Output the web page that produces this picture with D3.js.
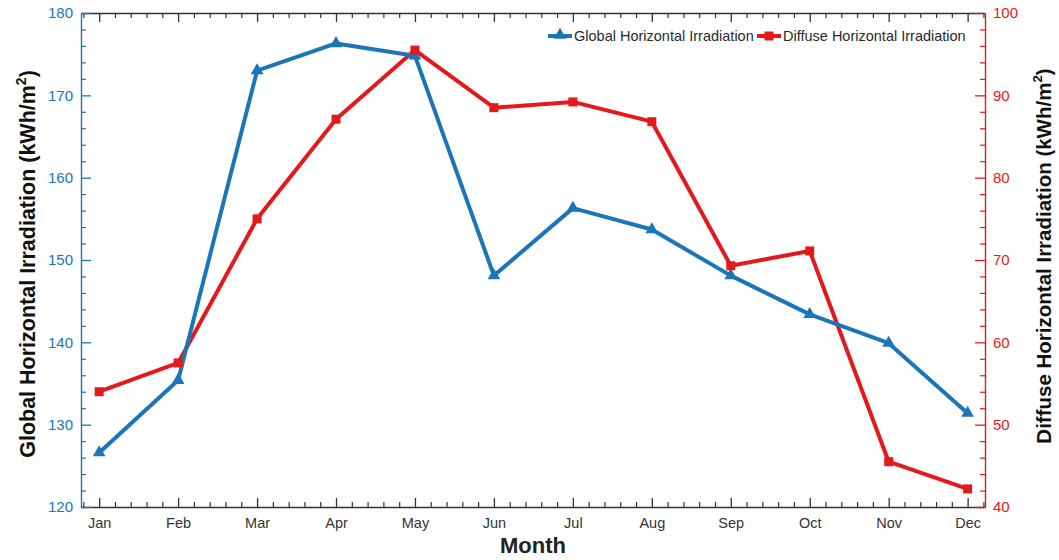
<!DOCTYPE html>
<html>
<head>
<meta charset="utf-8">
<script src="https://cdn.jsdelivr.net/npm/d3@7"></script>
<style>
  body { margin: 0; background: #fff; }
  svg text { font-family: "Liberation Sans", Arial, sans-serif; }
</style>
</head>
<body>
<svg id="chart" width="1059" height="560"></svg>
<script>
// Monthly irradiation, kWh/m²
const months = ["Jan", "Feb", "Mar", "Apr", "May", "Jun", "Jul", "Aug", "Sep", "Oct", "Nov", "Dec"];
const globalIrr = [126.6, 135.4, 173.0, 176.3, 174.8, 148.1, 156.3, 153.7, 148.1, 143.4, 139.9, 131.4];
const diffuseIrr = [54.0, 57.5, 75.0, 87.1, 95.5, 88.5, 89.2, 86.8, 69.3, 71.1, 45.5, 42.2];
const leftTicks = [120, 130, 140, 150, 160, 170, 180];
const rightTicks = [40, 50, 60, 70, 80, 90, 100];

const BLUE = "#1b75b9";
const RED = "#e3191b";
const AXIS = "#333333";

const svg = d3.select("#chart");
const L = 81, R = 985, T = 13, B = 507;

const x = d3.scaleLinear().domain([0.77, 12.22]).range([L, R]);
const yL = d3.scaleLinear().domain([120, 180]).range([B, T]);
const yR = d3.scaleLinear().domain([40, 100]).range([B, T]);

const monthIdx = months.map((m, i) => i + 1);
const minorX = d3.range(0.8, 12.21, 0.2).filter(v => Math.abs(v - Math.round(v)) > 0.01);
const minorL = d3.range(120, 180.01, 2).filter(v => v % 10 !== 0);
const minorR = d3.range(40, 100.01, 2).filter(v => v % 10 !== 0);

// Bottom axis: month ticks pointing inward
const gB = svg.append("g").attr("transform", `translate(0,${B})`)
  .call(d3.axisBottom(x).tickValues(monthIdx).tickFormat(d => months[d - 1])
    .tickSizeInner(-9).tickSizeOuter(0).tickPadding(11));
gB.select(".domain").attr("stroke", AXIS).attr("stroke-width", 1.3);
gB.selectAll(".tick line").attr("stroke", AXIS).attr("stroke-width", 1.3);
gB.selectAll(".tick text").attr("fill", "#333").attr("font-size", 14.5);
svg.append("g").attr("transform", `translate(0,${B})`)
  .call(d3.axisBottom(x).tickValues(minorX).tickFormat("").tickSizeInner(-5).tickSizeOuter(0))
  .call(g => g.select(".domain").remove())
  .selectAll("line").attr("stroke", AXIS).attr("stroke-width", 1.2);

// Top axis: mirrored ticks pointing down
const gT = svg.append("g").attr("transform", `translate(0,${T})`)
  .call(d3.axisTop(x).tickValues(monthIdx).tickFormat("").tickSizeInner(-9).tickSizeOuter(0));
gT.select(".domain").attr("stroke", AXIS).attr("stroke-width", 1.3);
gT.selectAll("line").attr("stroke", AXIS).attr("stroke-width", 1.3);
svg.append("g").attr("transform", `translate(0,${T})`)
  .call(d3.axisTop(x).tickValues(minorX).tickFormat("").tickSizeInner(-5).tickSizeOuter(0))
  .call(g => g.select(".domain").remove())
  .selectAll("line").attr("stroke", AXIS).attr("stroke-width", 1.2);

// Left axis (global)
const gL = svg.append("g").attr("transform", `translate(${L},0)`)
  .call(d3.axisLeft(yL).tickValues(leftTicks).tickSizeInner(-10).tickSizeOuter(0).tickPadding(8));
gL.select(".domain").attr("stroke", BLUE).attr("stroke-width", 1.4);
gL.selectAll(".tick line").attr("stroke", BLUE).attr("stroke-width", 1.3);
gL.selectAll(".tick text").attr("fill", BLUE).attr("font-size", 15);
svg.append("g").attr("transform", `translate(${L},0)`)
  .call(d3.axisLeft(yL).tickValues(minorL).tickFormat("").tickSizeInner(-5).tickSizeOuter(0))
  .call(g => g.select(".domain").remove())
  .selectAll("line").attr("stroke", BLUE).attr("stroke-width", 1.2);

// Right axis (diffuse)
const gR = svg.append("g").attr("transform", `translate(${R},0)`)
  .call(d3.axisRight(yR).tickValues(rightTicks).tickSizeInner(-10).tickSizeOuter(0).tickPadding(8));
gR.select(".domain").attr("stroke", RED).attr("stroke-width", 1.4);
gR.selectAll(".tick line").attr("stroke", RED).attr("stroke-width", 1.3);
gR.selectAll(".tick text").attr("fill", RED).attr("font-size", 15);
svg.append("g").attr("transform", `translate(${R},0)`)
  .call(d3.axisRight(yR).tickValues(minorR).tickFormat("").tickSizeInner(-5).tickSizeOuter(0))
  .call(g => g.select(".domain").remove())
  .selectAll("line").attr("stroke", RED).attr("stroke-width", 1.2);

// Series lines
const lineG = d3.line().x((d, i) => x(i + 1)).y(d => yL(d));
const lineD = d3.line().x((d, i) => x(i + 1)).y(d => yR(d));

svg.append("path").datum(diffuseIrr).attr("d", lineD)
  .attr("fill", "none").attr("stroke", RED).attr("stroke-width", 4).attr("stroke-linejoin", "round");
svg.append("path").datum(globalIrr).attr("d", lineG)
  .attr("fill", "none").attr("stroke", BLUE).attr("stroke-width", 4).attr("stroke-linejoin", "round");

const tri = d3.symbol().type(d3.symbolTriangle).size(70);
svg.selectAll(".mg").data(globalIrr).enter().append("path")
  .attr("d", tri).attr("fill", BLUE)
  .attr("transform", (d, i) => `translate(${x(i + 1)},${yL(d)})`);
svg.selectAll(".md").data(diffuseIrr).enter().append("rect")
  .attr("x", (d, i) => x(i + 1) - 4.5).attr("y", d => yR(d) - 4.5)
  .attr("width", 9).attr("height", 9).attr("fill", RED);

// Legend
const leg = svg.append("g").attr("transform", "translate(0,36)");
leg.append("line").attr("x1", 548).attr("x2", 572).attr("y1", 0).attr("y2", 0)
  .attr("stroke", BLUE).attr("stroke-width", 4);
leg.append("path").attr("d", tri).attr("fill", BLUE).attr("transform", "translate(560,-1)");
leg.append("text").attr("x", 574).attr("y", 5).attr("font-size", 14.5).attr("fill", "#2a2a2a")
  .text("Global Horizontal Irradiation");
leg.append("line").attr("x1", 757).attr("x2", 781).attr("y1", 0).attr("y2", 0)
  .attr("stroke", RED).attr("stroke-width", 4);
leg.append("rect").attr("x", 764.5).attr("y", -4.5).attr("width", 9).attr("height", 9).attr("fill", RED);
leg.append("text").attr("x", 783).attr("y", 5).attr("font-size", 14.5).attr("fill", "#2a2a2a")
  .text("Diffuse Horizontal Irradiation");

// Axis titles
svg.append("text").attr("x", 533).attr("y", 553).attr("text-anchor", "middle")
  .attr("font-size", 22).attr("font-weight", "bold").attr("fill", "#222").text("Month");

function yTitle(cx, cy, label, size) {
  const t = svg.append("text").attr("transform", `translate(${cx},${cy}) rotate(-90)`)
    .attr("text-anchor", "middle").attr("font-size", size).attr("font-weight", "bold").attr("fill", "#111");
  t.append("tspan").text(label + " (kWh/m");
  t.append("tspan").attr("font-size", size * 0.65).attr("dy", -size * 0.42).text("2");
  t.append("tspan").attr("dy", size * 0.42).text(")");
}
yTitle(35, 264, "Global Horizontal Irradiation", 21.5);
yTitle(1051, 256, "Diffuse Horizontal Irradiation", 20.5);
</script>
</body>
</html>
